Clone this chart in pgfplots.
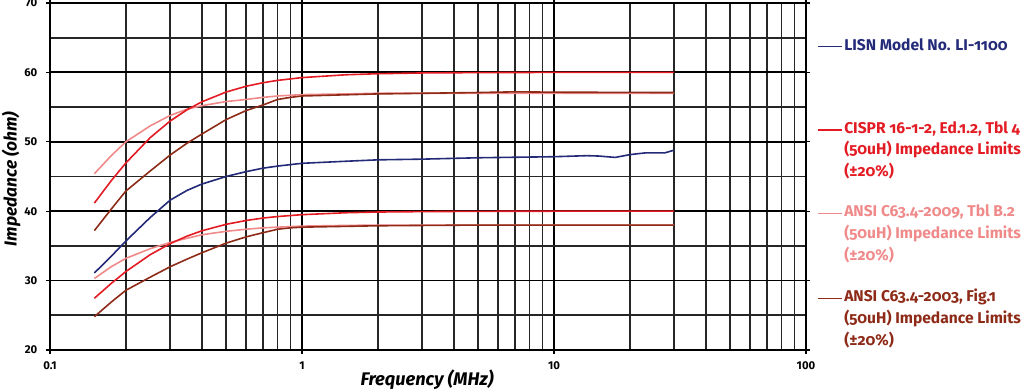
\documentclass[border=0pt]{standalone}
\usepackage{fontspec}
\setmainfont{Fira Sans}
\usepackage{pgfplots}
\pgfplotsset{compat=1.18}
\definecolor{clisn}{HTML}{232A78}
\definecolor{ccispr}{HTML}{E31B23}
\definecolor{cpink}{HTML}{F08A8A}
\definecolor{cbrown}{HTML}{8E2B18}
\begin{document}
\begin{tikzpicture}[x=1pt,y=1pt]
\useasboundingbox (-37.5,-30.75) rectangle (730.5,262.5);
\begin{axis}[
  at={(0,0)}, anchor=south west,
  scale only axis, width=567pt, height=260.25pt,
  xmode=log, xmin=0.1, xmax=100, ymin=20, ymax=70,
  xtick={0.1,1,10,100}, xticklabels={0.1,1,10,100},
  ytick={20,30,40,50,60,70}, yticklabels={20,30,40,50,60,70},
  minor ytick={25,35,45,55,65},
  grid=both,
  major grid style={black, line width=1.35pt},
  minor grid style={black!85, line width=1.3pt},
  axis line style={black, line width=1.35pt},
  tick align=outside, major tick length=3pt, minor tick length=0pt,
  tick style={black, line width=0.9pt},
  every tick label/.append style={font=\bfseries\fontsize{8.5}{10}\selectfont},
  xticklabel style={yshift=-2.5pt},
  yticklabel style={xshift=-3pt},
  xlabel={Frequency (MHz)},
  ylabel={Impedance (ohm)},
  xlabel style={at={(axis description cs:0.4987,-0.0865)}, anchor=center, font=\itshape\bfseries\fontsize{13.7}{16}\selectfont},
  ylabel style={at={(axis description cs:-0.0516,0.493)}, anchor=center, font=\itshape\bfseries\fontsize{13}{16}\selectfont},
  clip=false,
]
% ANSI C63.4-2009 (pink)
\addplot[cpink, line width=1.2pt] coordinates {
(0.15,45.4)(0.175,48.0)(0.2,50.0)(0.25,52.3)(0.3,53.8)(0.35,54.7)(0.4,55.2)(0.5,55.8)(0.6,56.1)(0.7,56.4)(0.8,56.6)(1,56.8)(1.5,56.9)(2,57.0)(30,57.0)};
\addplot[cpink, line width=1.2pt] coordinates {
(0.15,30.3)(0.175,32.0)(0.2,33.2)(0.25,34.6)(0.3,35.5)(0.35,36.1)(0.4,36.6)(0.5,37.1)(0.6,37.4)(0.7,37.6)(0.8,37.7)(1,37.85)(1.5,37.95)(2,38.0)(30,38.0)};
% CISPR (red)
\addplot[ccispr, line width=1.2pt] coordinates {
(0.15,41.17)(0.175,44.39)(0.2,46.95)(0.25,50.61)(0.3,53.0)(0.35,54.62)(0.4,55.75)(0.5,57.17)(0.6,58.0)(0.7,58.51)(0.8,58.85)(1,59.25)(1.5,59.66)(2,59.81)(3,59.92)(5,59.97)(10,60)(30,60)};
\addplot[ccispr, line width=1.2pt] coordinates {
(0.15,27.45)(0.175,29.59)(0.2,31.30)(0.25,33.74)(0.3,35.33)(0.35,36.41)(0.4,37.17)(0.5,38.11)(0.6,38.66)(0.7,39.01)(0.8,39.23)(1,39.50)(1.5,39.78)(2,39.88)(3,39.94)(5,39.98)(10,40)(30,40)};
% ANSI C63.4-2003 (brown)
\addplot[cbrown, line width=1.2pt] coordinates {
(0.15,37.2)(0.175,40.3)(0.2,42.9)(0.25,45.8)(0.3,48.1)(0.35,49.8)(0.4,51.1)(0.5,53.2)(0.6,54.5)(0.7,55.3)(0.8,56.1)(0.9,56.4)(1,56.6)(2,56.9)(5,57.1)(7,57.2)(10,57.15)(30,57.1)};
\addplot[cbrown, line width=1.2pt] coordinates {
(0.15,24.8)(0.175,26.9)(0.2,28.6)(0.25,30.5)(0.3,32.0)(0.35,33.1)(0.4,34.0)(0.5,35.4)(0.6,36.3)(0.7,36.9)(0.8,37.4)(0.9,37.6)(1,37.7)(2,37.9)(5,38.0)(30,38.0)};
% LISN (blue)
\addplot[clisn, line width=1.2pt] coordinates {
(0.15,31.1)(0.175,33.5)(0.2,35.7)(0.25,39.1)(0.3,41.6)(0.35,43.0)(0.4,43.9)(0.5,45.0)(0.6,45.7)(0.7,46.2)(0.8,46.5)(1,46.9)(1.5,47.2)(2,47.4)(3,47.5)(5,47.7)(8,47.8)(10,47.85)(13.5,48.0)(15,47.95)(17.5,47.75)(20,48.15)(23,48.4)(27.5,48.4)(30,48.8)};
\end{axis}
\begin{scope}[every node/.style={anchor=mid west, inner sep=0pt, font=\bfseries\fontsize{11.7}{14}\selectfont\addfontfeatures{Numbers=OldStyle}}]
\draw[clisn, line width=1.1pt] (576,227.5) -- (594,227.5);
\node[clisn] at (595.5,227.5) {LISN Model No. LI-1100};
\draw[ccispr, line width=1.1pt] (576,165) -- (594,165);
\node[ccispr] at (595.5,165) {CISPR 16-1-2, Ed.1.2, Tbl 4};
\node[ccispr] at (595.5,149) {(50uH) Impedance Limits};
\node[ccispr] at (595.5,132.5) {(±20\%)};
\draw[cpink, line width=1.1pt] (576,102.5) -- (594,102.5);
\node[cpink] at (595.5,102.5) {ANSI C63.4-2009, Tbl B.2};
\node[cpink] at (595.5,86.5) {(50uH) Impedance Limits};
\node[cpink] at (595.5,70) {(±20\%)};
\draw[cbrown, line width=1.1pt] (576,38.8) -- (594,38.8);
\node[cbrown] at (595.5,38.8) {ANSI C63.4-2003, Fig.1};
\node[cbrown] at (595.5,22.8) {(50uH) Impedance Limits};
\node[cbrown] at (595.5,6.3) {(±20\%)};
\end{scope}
\end{tikzpicture}
\end{document}
